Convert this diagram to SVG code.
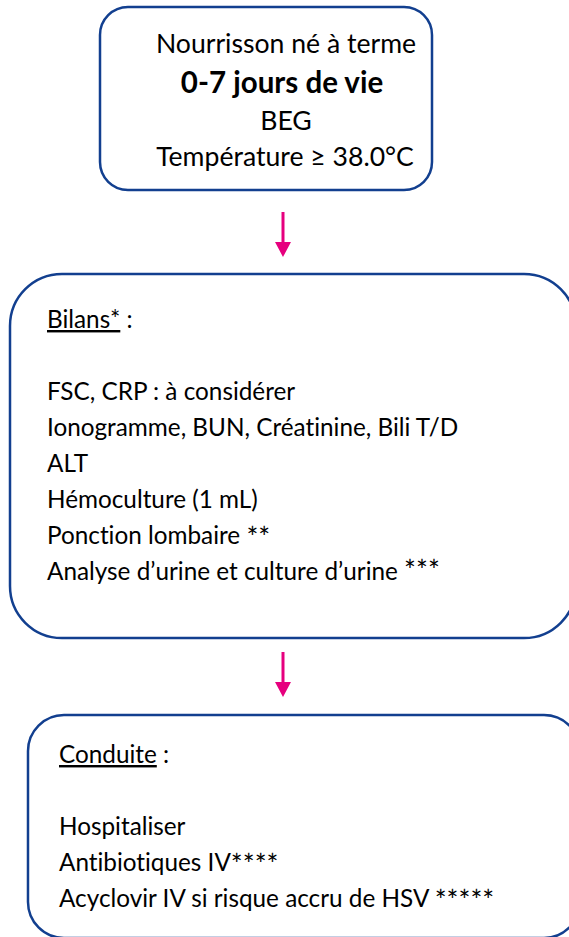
<svg xmlns="http://www.w3.org/2000/svg" width="569" height="937" viewBox="0 0 569 937">
<style>
.box{fill:#fff;stroke:#123f8f;stroke-width:2.5}
.t{font-family:Lato,"Open Sans",sans-serif;font-size:24.3px;fill:#000;font-variant-ligatures:none}
.h{font-size:26.6px}
.c{text-anchor:middle}
.b{font-weight:bold;font-size:29.5px}
.u{text-decoration:underline}
.ast{font-size:28px}
.arr{stroke:#e6007e;stroke-width:3;fill:none}
.head{fill:#e6007e}
</style>
<rect width="569" height="937" fill="#fff"/>
<g id="node-start">
<rect class="box" x="100" y="7" width="332" height="183" rx="28" ry="28"/>
<text class="t h c" x="286" y="53">Nourrisson né à terme</text>
<text class="t c b" x="282" y="93">0-7 jours de vie</text>
<text class="t h c" x="286" y="130">BEG</text>
<text class="t h c" x="285" y="166">Température ≥ 38.0°C</text>
</g>
<g id="node-bilans">
<rect class="box" x="10" y="274" width="566" height="364" rx="52" ry="52"/>
<text class="t" x="47" y="328"><tspan class="u">Bilans*</tspan> :</text>
<text class="t" x="47" y="400">FSC, CRP : à considérer</text>
<text class="t" x="47" y="436">Ionogramme, BUN, Créatinine, Bili T/D</text>
<text class="t" x="47" y="472">ALT</text>
<text class="t" x="47" y="508">Hémoculture (1 mL)</text>
<text class="t" x="47" y="544">Ponction lombaire <tspan class="ast" dy="4">**</tspan></text>
<text class="t" x="47" y="580">Analyse d’urine et culture d’urine <tspan class="ast" dy="1">***</tspan></text>
</g>
<g id="node-conduite">
<rect class="box" x="28" y="715" width="552" height="223" rx="36" ry="36"/>
<text class="t" x="59" y="763"><tspan class="u">Conduite</tspan> :</text>
<text class="t" x="59" y="835">Hospitaliser</text>
<text class="t" x="59" y="871">Antibiotiques IV<tspan class="ast" dy="4">****</tspan></text>
<text class="t" x="59" y="907">Acyclovir IV si risque accru de HSV <tspan class="ast" dy="4">*****</tspan></text>
</g>
<g id="connectors">
<line class="arr" x1="283" y1="212" x2="283" y2="244"/>
<polygon class="head" points="275,242 291,242 283,257"/>
<line class="arr" x1="283" y1="652" x2="283" y2="684"/>
<polygon class="head" points="275,682 291,682 283,697"/>
</g>
</svg>
